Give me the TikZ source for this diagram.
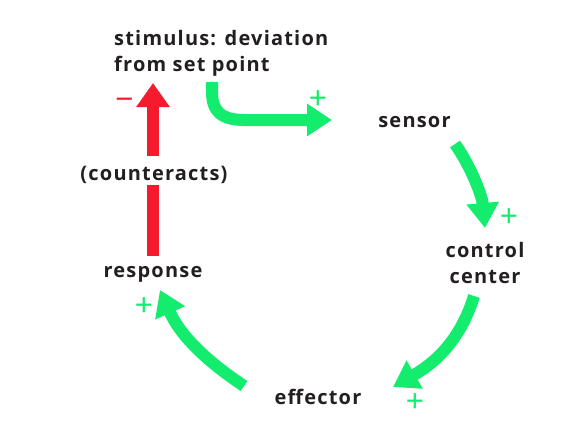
\documentclass[tikz,border=0pt]{standalone}
\usepackage{fontspec}
\setmainfont{Open Sans}[LetterSpace=6]
\newfontfamily\signfont{Liberation Sans}
\usetikzlibrary{arrows.meta}
\definecolor{arrowgreen}{RGB}{20,236,110}
\definecolor{arrowred}{RGB}{246,26,46}
\definecolor{labeltext}{RGB}{35,31,32}
\begin{document}
\begin{tikzpicture}[x=1pt,y=-1pt,
  lbl/.style={font=\bfseries\fontsize{20}{26}\selectfont, text=labeltext, inner sep=0pt},
  flow/.style={line width=12pt, draw=arrowgreen, -{Triangle[length=25pt,width=31pt]}},
  redshaft/.style={line width=12pt, draw=arrowred},
  redflow/.style={redshaft, -{Triangle[length=24pt,width=32pt]}},
  sign/.style={font=\signfont\fontsize{31}{31}\selectfont, inner sep=0pt, anchor=base},
]
\useasboundingbox (0,0) rectangle (585,441);

% labels
\node[lbl, align=left, anchor=north west] (stim) at (114,29.8) {stimulus: deviation\\from set point};
\node[lbl, anchor=base] (sensor) at (414.5,127) {sensor};
\node[lbl, align=center, anchor=north] (control) at (485,241.8) {control\\center};
\node[lbl, anchor=base] (effector) at (318,404) {effector};
\node[lbl, anchor=base] (response) at (153,277) {response};
\node[lbl, anchor=base] (count) at (154,180) {(counteracts)};

% green loop
\coordinate (s1) at (212,82);
\coordinate (t1) at (332,120);
\draw[flow] (s1) -- (212,92) .. controls (212,112) and (222,120) .. (245,120) -- (t1);
\coordinate (s2) at (455,144);
\coordinate (t2) at (485,228);
\draw[flow] (s2) .. controls (470,165) and (482,195) .. (t2);
\coordinate (s3) at (474,296);
\coordinate (t3) at (393,387);
\draw[flow] (s3) .. controls (462,335) and (440,360) .. (t3);
\coordinate (s4) at (244,386);
\coordinate (t4) at (160,290);
\draw[flow] (s4) .. controls (205,360) and (180,335) .. (t4);

% red feedback arrow
\coordinate (redtip) at (153,83);
\draw[redshaft, shorten <=10pt, shorten >=2pt] (response.north -| redtip) -- (count.south -| redtip);
\draw[redflow, shorten <=10pt] (count.north -| redtip) -- (redtip);

% signs
\node[sign, text=arrowgreen] (p1) at (318,108) {+};
\node[sign, text=arrowgreen] (p2) at (509,226) {+};
\node[sign, text=arrowgreen] (p3) at (415,411) {+};
\node[sign, text=arrowgreen] (p4) at (144,315) {+};
\node[sign, text=arrowred] (m1) at (124.5,109) {−};
\end{tikzpicture}
\end{document}
